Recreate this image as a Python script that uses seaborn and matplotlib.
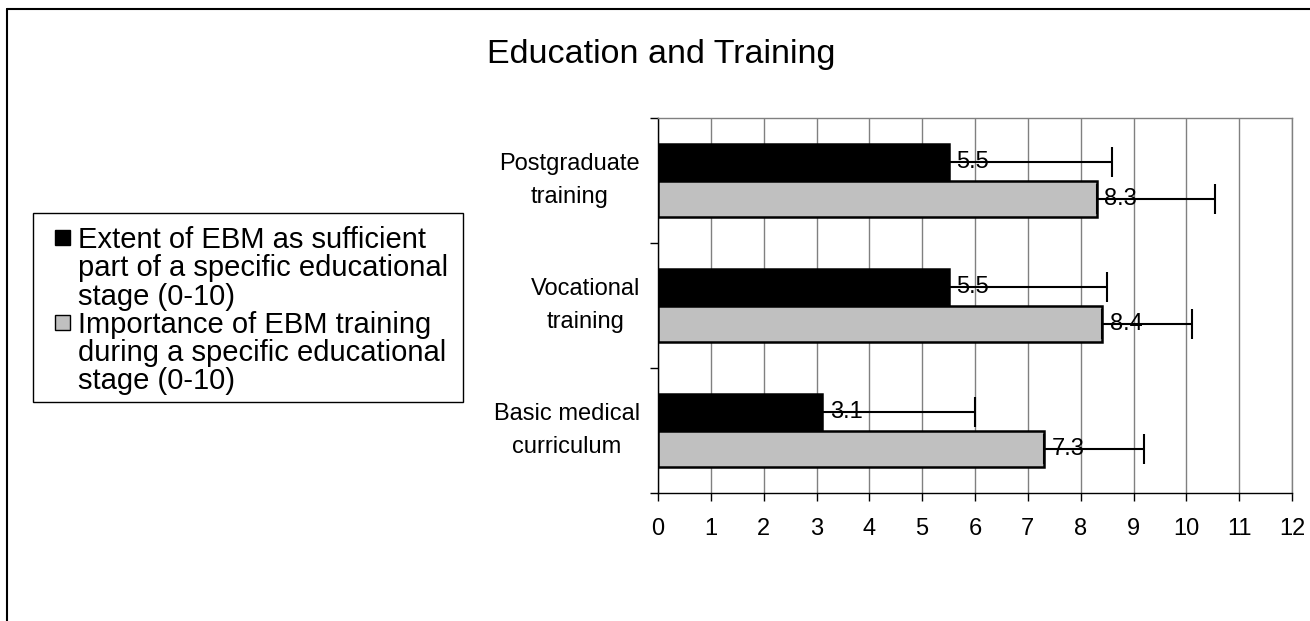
import matplotlib
matplotlib.use("Agg")
import matplotlib.pyplot as plt
from matplotlib.lines import Line2D
from matplotlib.patches import Patch, Rectangle
import seaborn as sns
import pandas as pd
import numpy as np

categories = ["Postgraduate\ntraining", "Vocational\ntraining", "Basic medical\ncurriculum"]
series_names = ["Extent of EBM as sufficient\npart of a specific educational\nstage (0-10)",
                "Importance of EBM training\nduring a specific educational\nstage (0-10)"]
extent_vals = [5.5, 5.5, 3.1]
importance_vals = [8.3, 8.4, 7.3]
extent_err = [3.1, 3.0, 2.9]
importance_err = [2.25, 1.7, 1.9]
x_ticks = list(range(0, 13))
colors = ["#000000", "#c0c0c0"]

sns.set_theme(style="white")
plt.rcParams['font.family'] = ['Liberation Sans', 'DejaVu Sans']
plt.rcParams['text.color'] = 'black'
plt.rcParams['xtick.color'] = 'black'
plt.rcParams['ytick.color'] = 'black'
plt.rcParams['xtick.labelcolor'] = 'black'
plt.rcParams['ytick.labelcolor'] = 'black'

df = pd.DataFrame({
    "cat": categories * 2,
    "series": [series_names[0]] * 3 + [series_names[1]] * 3,
    "value": extent_vals + importance_vals,
})

fig = plt.figure(figsize=(13.1, 6.21), dpi=100)
ax = fig.add_axes([658/1310, 1 - 493/621, (1292-658)/1310, (493-118)/621])

sns.barplot(data=df, y="cat", x="value", hue="series", order=categories,
            hue_order=series_names, palette=colors,
            orient="h", width=0.58, edgecolor="black", linewidth=1.8,
            errorbar=None, ax=ax, legend=False, zorder=3)

errs = [extent_err, importance_err]
vals = [extent_vals, importance_vals]
bar_conts = [c for c in ax.containers]
for ci, cont in enumerate(bar_conts):
    for bi, bar in enumerate(cont.patches):
        yc = bar.get_y() + bar.get_height() / 2
        xv = bar.get_width()
        ax.errorbar([xv], [yc], xerr=[[0], [errs[ci][bi]]], fmt="none",
                    ecolor="black", elinewidth=1.5, capsize=11, capthick=1.5, zorder=5)
        ax.text(xv + 0.15, yc, f"{vals[ci][bi]:.1f}", ha="left", va="center",
                fontsize=17, color="black", zorder=6)

ax.set_xlim(0, 12)
ax.set_ylim(2.5, -0.5)
ax.set_xticks(x_ticks)
ax.set_xticklabels([str(t) for t in x_ticks], fontsize=17)
ax.set_yticks([-0.5, 0.5, 1.5, 2.5])
ax.set_yticklabels([])
ax.set_yticks([0, 1, 2], minor=True)
ax.set_yticklabels(categories, minor=True, fontsize=17, ha="right", va="center")
for t in ax.get_yticklabels(minor=True):
    t.set_multialignment("center")
    t.set_linespacing(1.7)
ax.tick_params(axis="y", which="minor", length=0, pad=13)
ax.tick_params(axis="y", which="major", length=6, width=1, color="black", direction="out", left=True)
ax.tick_params(axis="x", which="major", length=6, width=1, color="black", direction="out", bottom=True, pad=12)
ax.set_xlabel("")
ax.set_ylabel("")

ax.xaxis.grid(True, color="#808080", linewidth=1, zorder=0)
ax.set_axisbelow(True)
for s in ["top", "right"]:
    ax.spines[s].set_color("#808080")
    ax.spines[s].set_linewidth(1)
for s in ["left", "bottom"]:
    ax.spines[s].set_color("black")
    ax.spines[s].set_linewidth(1)

handles, labels = [], []
for name, col in zip(series_names, colors):
    lines = name.split("\n")
    for li, line in enumerate(lines):
        if li == 0:
            handles.append(Patch(facecolor=col, edgecolor="black", linewidth=1))
        else:
            handles.append(Patch(facecolor="none", edgecolor="none", linewidth=0))
        labels.append(line)

fig.add_artist(Rectangle((33/1310, 1 - 402/621), 430/1310, 189/621,
                         transform=fig.transFigure, fill=False,
                         edgecolor="black", linewidth=1))
leg = fig.legend(handles, labels, loc="upper left", bbox_to_anchor=(55/1310, 1 - 226/621),
                 frameon=False,
                 fontsize=21, handlelength=0.52, handleheight=0.38, handletextpad=0.27,
                 labelspacing=0.01, borderpad=0, borderaxespad=0)

fig.text(661/1310, 1 - 55/621, "Education and Training", ha="center", va="center",
         fontsize=24.5)

fig.add_artist(Line2D([7/1310, 1], [1 - 9/621, 1 - 9/621], transform=fig.transFigure,
                      color="black", linewidth=1.5))
fig.add_artist(Line2D([7/1310, 7/1310], [0, 1 - 9/621], transform=fig.transFigure,
                      color="black", linewidth=1.5))

fig.savefig("out.png", dpi=100, facecolor="white")
